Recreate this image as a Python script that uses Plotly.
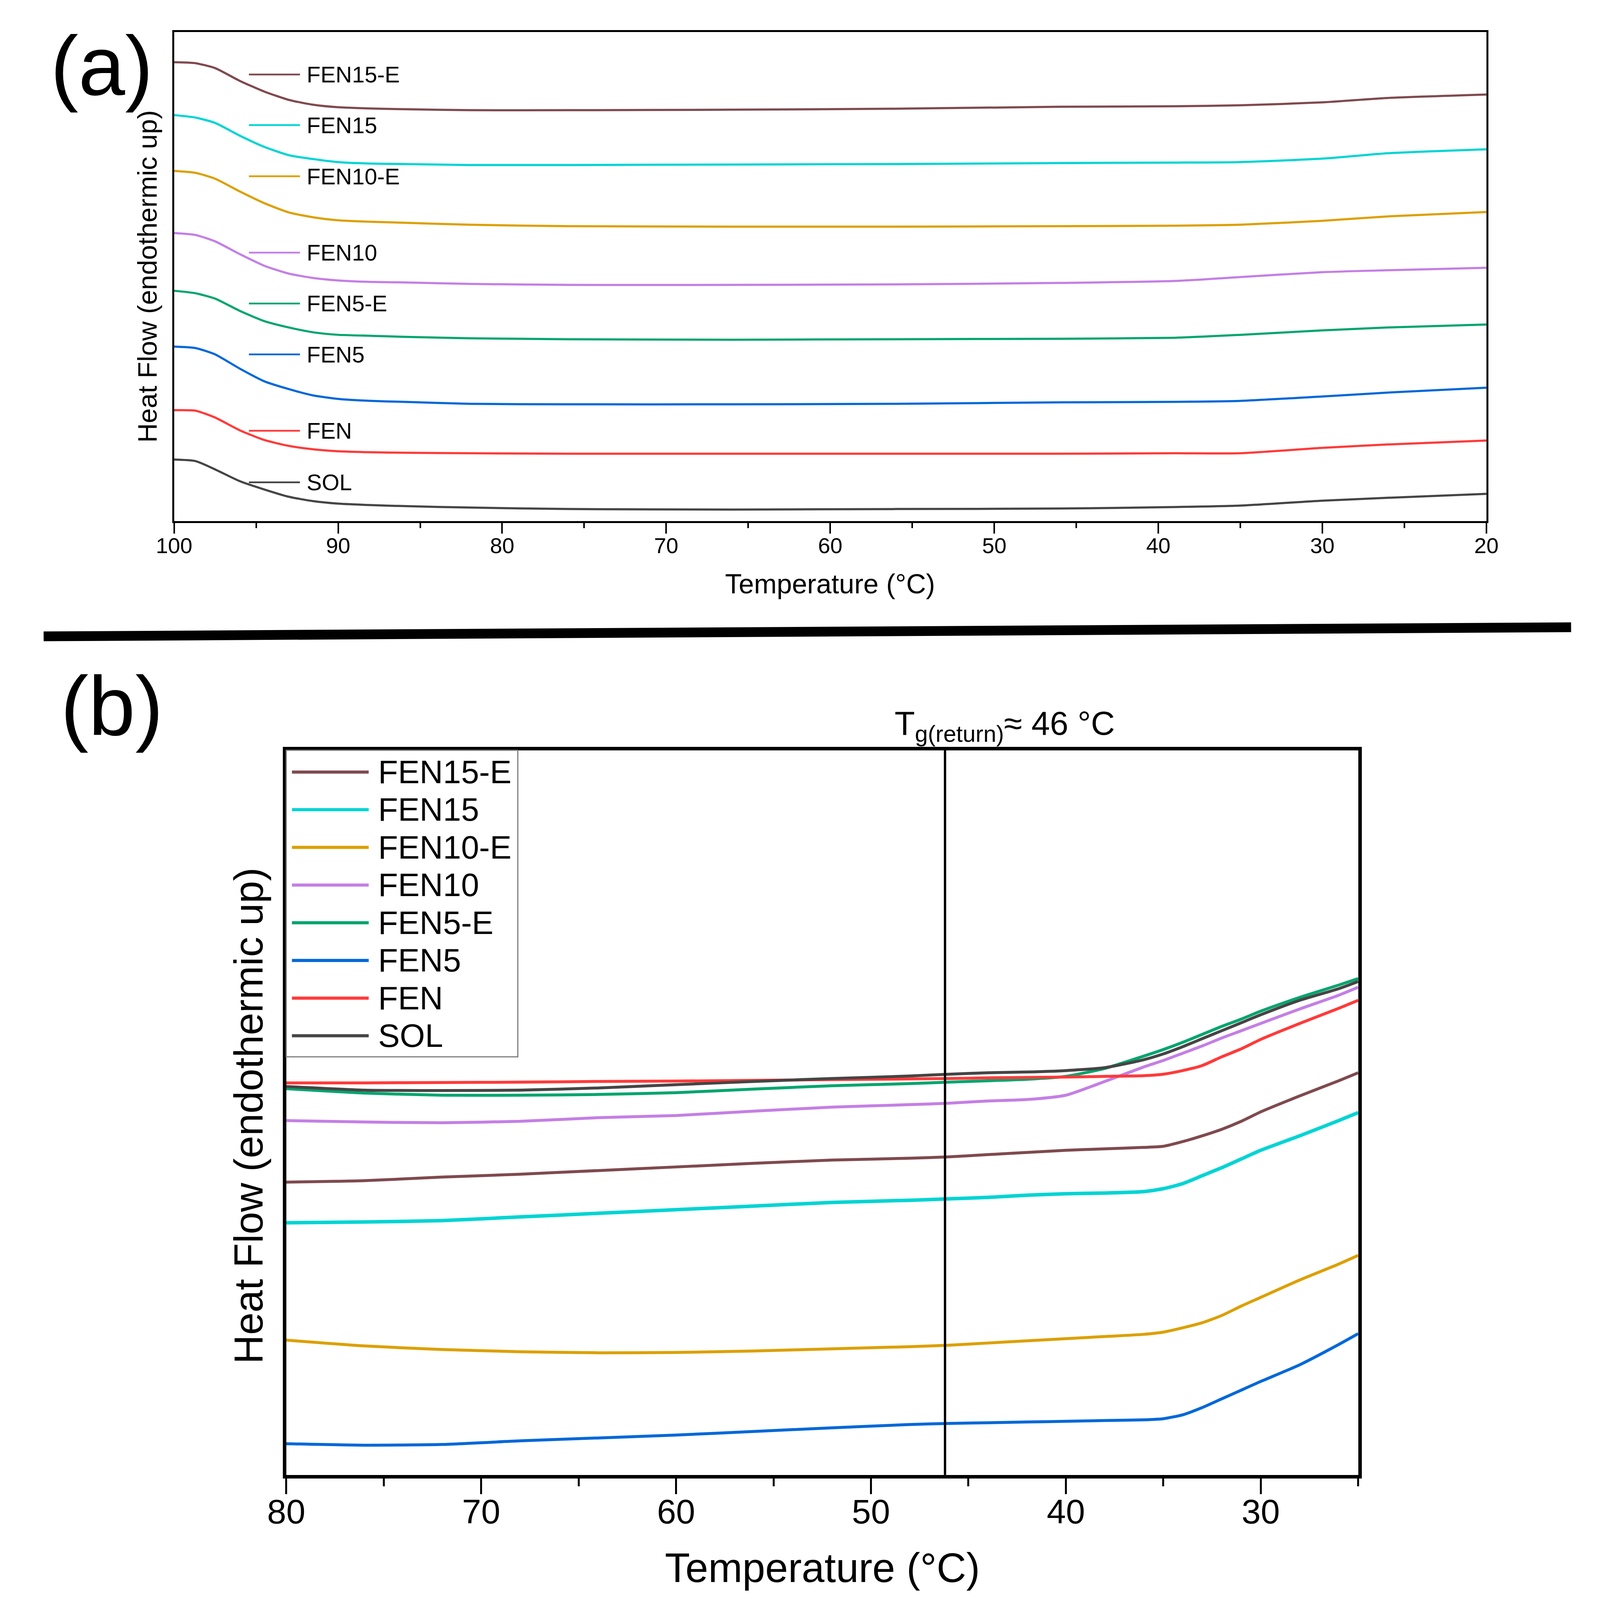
import plotly.graph_objects as go

# DSC heating curves, (a) full run 100 -> 20 C, (b) zoom 80 -> 25 C
# heat flow is in arbitrary units (curves are offset), 0-100 = plot height

SAMPLES = ["FEN15-E", "FEN15", "FEN10-E", "FEN10", "FEN5-E", "FEN5", "FEN", "SOL"]
COLORS = ["#7f4a4f", "#00d4d4", "#dca000", "#c47fe4", "#00a56e", "#0068d8", "#ff3a3a", "#454545"]

# panel (a)
T_A = [100, 98.7, 97.5, 96, 94.5, 93, 91.5, 90, 88, 86, 82, 76, 66, 56, 46, 39, 35, 30, 26, 20]
FEN15E_A = [93.8, 93.6, 92.6, 90.0, 87.8, 86.1, 85.1, 84.6, 84.35, 84.2, 84.0, 84.0, 84.1, 84.3, 84.7, 84.8, 85.0, 85.6, 86.5, 87.2]
FEN15_A = [83.0, 82.5, 81.4, 78.8, 76.5, 74.8, 74.0, 73.4, 73.1, 73.0, 72.8, 72.8, 72.9, 73.0, 73.2, 73.3, 73.4, 74.1, 75.2, 76.0]
FEN10E_A = [71.6, 71.2, 70.0, 67.4, 65.0, 63.1, 62.1, 61.5, 61.2, 61.0, 60.6, 60.3, 60.2, 60.2, 60.3, 60.4, 60.6, 61.4, 62.3, 63.2]
FEN10_A = [58.9, 58.5, 57.2, 54.6, 52.2, 50.6, 49.7, 49.2, 48.9, 48.8, 48.5, 48.3, 48.3, 48.4, 48.7, 49.1, 49.9, 50.9, 51.3, 51.8]
FEN5E_A = [47.1, 46.6, 45.5, 43.0, 40.9, 39.6, 38.6, 38.1, 37.9, 37.7, 37.4, 37.2, 37.1, 37.2, 37.3, 37.5, 38.1, 39.0, 39.6, 40.2]
FEN5_A = [35.7, 35.4, 34.1, 31.2, 28.6, 27.0, 25.7, 25.0, 24.6, 24.4, 24.0, 23.9, 23.9, 24.0, 24.3, 24.4, 24.6, 25.5, 26.3, 27.3]
FEN_A = [22.7, 22.6, 21.2, 18.6, 16.6, 15.4, 14.7, 14.3, 14.1, 14.0, 13.9, 13.8, 13.8, 13.8, 13.8, 13.9, 13.9, 15.0, 15.7, 16.5]
SOL_A = [12.6, 12.3, 10.6, 8.2, 6.5, 5.0, 4.1, 3.6, 3.3, 3.1, 2.8, 2.5, 2.4, 2.5, 2.6, 2.9, 3.2, 4.2, 4.8, 5.6]

# panel (b)
T_B = [80, 76, 72, 68, 64, 60, 56, 52, 48, 46, 44, 42, 40, 38, 36, 35, 34, 33, 32, 31, 30, 28, 26, 25]
FEN15E_B = [40.4, 40.6, 41.1, 41.5, 42.0, 42.5, 43.0, 43.45, 43.7, 43.9, 44.2, 44.5, 44.8, 45.0, 45.2, 45.35, 46.0, 46.8, 47.7, 48.8, 50.1, 52.3, 54.4, 55.5]
FEN15_B = [34.8, 34.9, 35.1, 35.6, 36.1, 36.6, 37.1, 37.6, 37.9, 38.1, 38.3, 38.6, 38.8, 38.9, 39.1, 39.5, 40.2, 41.3, 42.4, 43.6, 44.8, 46.8, 48.9, 50.0]
FEN10E_B = [18.6, 17.8, 17.3, 17.0, 16.85, 16.9, 17.1, 17.4, 17.7, 17.9, 18.2, 18.5, 18.8, 19.1, 19.4, 19.7, 20.3, 21.0, 22.0, 23.3, 24.5, 26.9, 29.1, 30.3]
FEN10_B = [48.9, 48.7, 48.6, 48.8, 49.3, 49.6, 50.2, 50.75, 51.1, 51.3, 51.6, 51.8, 52.4, 54.3, 56.3, 57.2, 58.2, 59.2, 60.3, 61.3, 62.3, 64.3, 66.2, 67.3]
FEN5E_B = [53.3, 52.7, 52.4, 52.4, 52.5, 52.75, 53.25, 53.7, 54.0, 54.2, 54.4, 54.6, 55.0, 56.1, 57.8, 58.7, 59.7, 60.8, 61.9, 62.9, 64.0, 65.9, 67.6, 68.5]
FEN5_B = [4.3, 4.1, 4.2, 4.7, 5.1, 5.5, 6.0, 6.5, 6.95, 7.1, 7.2, 7.3, 7.4, 7.5, 7.6, 7.75, 8.3, 9.3, 10.5, 11.7, 12.9, 15.2, 18.0, 19.5]
FEN_B = [54.1, 54.1, 54.15, 54.2, 54.3, 54.35, 54.45, 54.55, 54.65, 54.7, 54.8, 54.85, 54.9, 55.0, 55.1, 55.3, 55.8, 56.5, 57.7, 58.8, 60.1, 62.3, 64.4, 65.5]
SOL_B = [53.6, 53.1, 53.05, 53.1, 53.4, 53.85, 54.3, 54.7, 55.05, 55.3, 55.5, 55.6, 55.8, 56.2, 57.3, 58.1, 59.1, 60.2, 61.3, 62.4, 63.5, 65.5, 67.1, 68.1]

TG_RETURN = 46.2

curves_a = [FEN15E_A, FEN15_A, FEN10E_A, FEN10_A, FEN5E_A, FEN5_A, FEN_A, SOL_A]
curves_b = [FEN15E_B, FEN15_B, FEN10E_B, FEN10_B, FEN5E_B, FEN5_B, FEN_B, SOL_B]

FONT = "Liberation Sans, Arial, sans-serif"
# reference canvas in px; everything below is placed as a fraction of it
W, H = 4088, 4377

fig = go.Figure()

for name, color, ya in zip(SAMPLES, COLORS, curves_a):
  fig.add_trace(go.Scatter(x=T_A, y=ya, mode="lines", name=name, showlegend=False,
                           line=dict(color=color, width=5.5, shape="spline", smoothing=0.6),
                           xaxis="x", yaxis="y"))

for name, color, yb in zip(SAMPLES, COLORS, curves_b):
  w = 9 if name == "FEN15" else 7.5
  fig.add_trace(go.Scatter(x=T_B, y=yb, mode="lines", name=name, showlegend=False,
                           line=dict(color=color, width=w, shape="spline", smoothing=0.6),
                           xaxis="x2", yaxis="y2"))

def px_x(fx):
  return fx / W

def px_y(fy):
  return 1 - fy / H

xa_common = dict(showgrid=False, zeroline=False, showline=True, mirror=True,
                 linecolor="black", ticks="outside", tickcolor="black",
                 tickfont=dict(family=FONT, color="black"))
ya_common = dict(showgrid=False, zeroline=False, showline=True, mirror=True,
                 linecolor="black", ticks="", showticklabels=False, range=[0, 100])

# no fixed width/height: let the figure fill the browser window
fig.update_layout(
  margin=dict(l=0, r=0, t=0, b=0),
  paper_bgcolor="white", plot_bgcolor="white",
  xaxis=dict(xa_common, domain=[px_x(398), px_x(3838)], anchor="y",
             range=[100, 20], tick0=20, dtick=10, ticklen=27, tickwidth=4, linewidth=5,
             ticklabelstandoff=-18,
             tickfont=dict(family=FONT, size=56, color="black"),
             minor=dict(dtick=5, ticks="outside", ticklen=13, tickwidth=4, tickcolor="black")),
  yaxis=dict(ya_common, domain=[px_y(1423), px_y(79)], anchor="x", linewidth=5),
  xaxis2=dict(xa_common, domain=[px_x(692), px_x(3502)], anchor="y2",
              range=[80, 25], tick0=30, dtick=10, ticklen=40, tickwidth=5, linewidth=9,
              ticklabelstandoff=-30,
              tickfont=dict(family=FONT, size=88, color="black"),
              minor=dict(dtick=5, ticks="outside", ticklen=20, tickwidth=5, tickcolor="black")),
  yaxis2=dict(ya_common, domain=[px_y(4042), px_y(2052)], anchor="x2", linewidth=9),
)

shapes = []
annotations = []

# thick separator between the two panels
shapes.append(dict(type="line", xref="paper", yref="paper",
                   x0=px_x(56), y0=px_y(1739), x1=px_x(4060), y1=px_y(1714),
                   line=dict(color="black", width=25)))

# Tg(return) marker
shapes.append(dict(type="line", xref="x2", yref="y2 domain", x0=TG_RETURN, x1=TG_RETURN,
                   y0=0, y1=1, line=dict(color="black", width=6)))

# inline labels of panel (a)
rows_a = [0.913, 0.8095, 0.705, 0.549, 0.445, 0.341, 0.185, 0.0796]
for name, color, yy in zip(SAMPLES, COLORS, rows_a):
  shapes.append(dict(type="line", xref="x domain", yref="y domain", x0=0.057, x1=0.0959,
                     y0=yy, y1=yy, line=dict(color=color, width=4.5)))
  annotations.append(dict(text=name, xref="x domain", yref="y domain", x=0.1005, y=yy,
                          xanchor="left", yanchor="middle", showarrow=False,
                          font=dict(family=FONT, size=58, color="black")))

# legend box of panel (b)
shapes.append(dict(type="rect", xref="x2 domain", yref="y2 domain", x0=0, x1=0.216,
                   y0=0.5769, y1=1, line=dict(color="#808080", width=3)))
rows_b = [0.970, 0.918, 0.866, 0.814, 0.762, 0.710, 0.658, 0.606]
for name, color, yy in zip(SAMPLES, COLORS, rows_b):
  shapes.append(dict(type="line", xref="x2 domain", yref="y2 domain", x0=0.0053, x1=0.0769,
                     y0=yy, y1=yy, line=dict(color=color, width=8)))
  annotations.append(dict(text=name, xref="x2 domain", yref="y2 domain", x=0.085, y=yy,
                          xanchor="left", yanchor="middle", showarrow=False,
                          font=dict(family=FONT, size=83, color="black")))

def note(text, fx, fy, size, **kw):
  d = dict(text=text, xref="paper", yref="paper", x=px_x(fx), y=px_y(fy),
           xanchor="center", yanchor="middle", showarrow=False,
           font=dict(family=FONT, size=size, color="black"))
  d.update(kw)
  return d

annotations += [
  note("Temperature (°C)", 2118, 1595, 70),
  note("Heat Flow (endothermic up)", 328, 751, 69, textangle=-90),
  note("Temperature (°C)", 2097, 4297, 105),
  note("Heat Flow (endothermic up)", 594, 3056, 103, textangle=-90),
  note("T<sub>g(return)</sub>≈ 46 °C", 2285, 2045, 85, xanchor="left", yanchor="bottom"),
  note("(a)", 208, 172, 215),
  note("(b)", 235, 1930, 215),
]

fig.update_layout(shapes=shapes, annotations=annotations)

fig.write_html("out.html")
